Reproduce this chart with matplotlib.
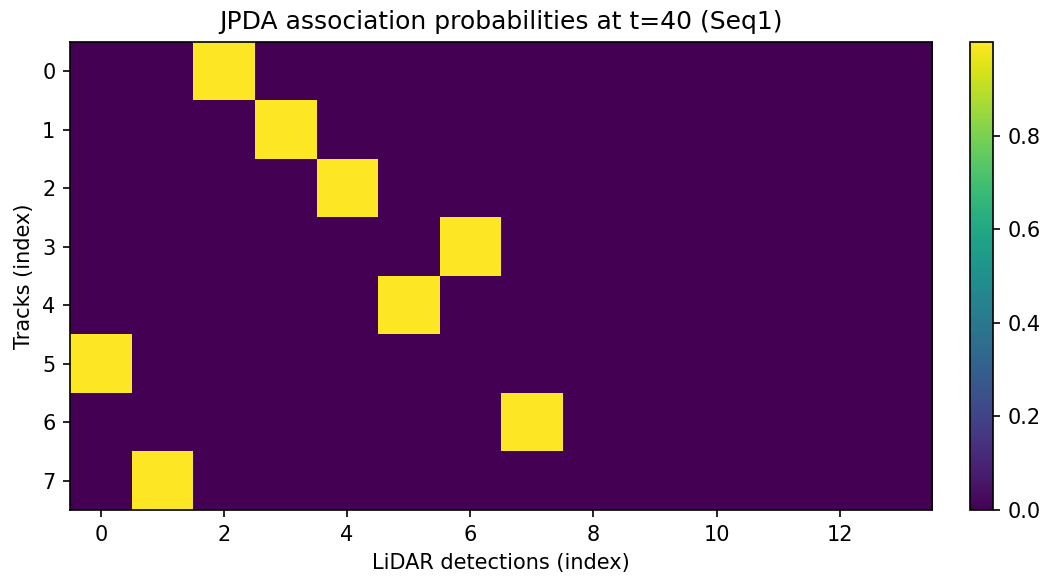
import numpy as np
import matplotlib
matplotlib.use("Agg")
import matplotlib.pyplot as plt

n_tracks = 8
n_dets = 14
# detection index assigned to each track (prob ~1)
assigned_det = [2, 3, 4, 6, 5, 0, 7, 1]
peak_prob = 0.9999

P = np.zeros((n_tracks, n_dets))
for t, d in enumerate(assigned_det):
    P[t, d] = peak_prob

DPI = 150
W, H = 1045, 579
fig = plt.figure(figsize=(W / DPI, H / DPI), dpi=DPI)
ax = fig.add_axes([70 / W, (H - 510) / H, (932 - 70) / W, (510 - 42) / H])
cax = fig.add_axes([970 / W, (H - 510) / H, (993 - 970) / W, (510 - 42) / H])

im = ax.imshow(P, aspect="auto", cmap="viridis", interpolation="nearest")
cb = fig.colorbar(im, cax=cax)

ax.set_title("JPDA association probabilities at t=40 (Seq1)")
ax.set_xlabel("LiDAR detections (index)")
ax.set_ylabel("Tracks (index)")
ax.set_xticks(np.arange(0, n_dets, 2))
ax.set_yticks(np.arange(n_tracks))

fig.savefig("out.png", dpi=DPI)
